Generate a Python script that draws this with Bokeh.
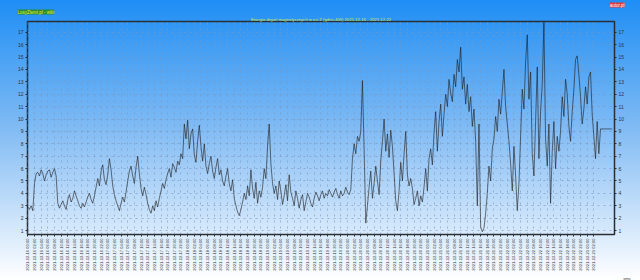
from math import pi
from datetime import datetime, timedelta
from bokeh.plotting import figure
from bokeh.models import Range1d, LinearAxis, FixedTicker, Title
from bokeh.embed import file_html
from bokeh.resources import INLINE

title_text = "Energia drgań magnetycznych w osi Z (gdns-400) 2021-12-16 - 2021-12-22"
badge_left = "LosyZiemi.pl - wiki"
badge_right = "autor.pl"
corner_text = "sms"

# half-hourly values
energy = [
    2.9, 2.7, 3.0, 2.6, 4.8, 5.6, 5.7, 5.4, 5.9, 5.6, 5.0, 5.5, 5.8, 5.9, 5.3, 5.7, 6.0, 5.4, 3.2, 2.8,
    3.1, 3.4, 3.0, 2.7, 3.5, 3.9, 3.3, 3.6, 4.2, 3.8, 3.4, 3.0, 2.8, 3.2, 2.9, 3.3, 3.7, 4.0, 3.5, 3.2,
    3.8, 4.5, 5.2, 4.6, 5.8, 6.3, 5.1, 4.7, 5.5, 6.8, 5.9, 4.6, 3.9, 3.4, 3.0, 2.6, 3.2, 3.7, 3.3, 4.1,
    5.0, 5.8, 6.2, 5.4, 4.8, 6.1, 7.0, 5.6, 4.4, 3.8, 4.5, 3.9, 3.2, 2.7, 2.4, 3.0, 2.6, 3.4, 2.9, 3.6,
    4.2, 4.8, 4.4, 5.1, 5.6, 6.0, 5.3, 6.4, 6.1, 5.7, 6.6, 6.3, 7.2, 6.8, 9.6, 8.4, 9.9, 7.6, 8.8, 9.2,
    7.1, 6.5, 8.2, 9.5, 7.8, 6.6, 8.0, 6.2, 5.6, 6.4, 7.0, 5.8, 5.2, 6.1, 6.8, 5.5, 5.9, 5.0, 4.6, 5.4,
    6.0, 4.8, 4.2, 5.1, 3.6, 3.0, 2.5, 2.2, 2.7, 3.3, 4.0, 3.5, 4.6, 3.8, 5.9, 4.4, 3.6, 4.9, 3.2, 4.2,
    3.7, 4.5, 6.0, 5.2, 7.8, 9.6, 6.4, 4.8, 4.0, 4.6, 3.5, 5.0, 4.2, 3.1, 3.8, 4.7, 3.4, 5.5, 4.1, 3.6,
    3.0, 4.2, 3.6, 2.8, 3.5, 3.9, 2.6, 3.3, 4.0, 3.7, 3.2, 2.9, 3.6, 4.1, 3.8, 3.4, 3.9, 4.2, 3.6, 4.0,
    3.8, 4.3, 4.0, 3.7, 4.1, 4.4, 3.9, 3.6, 4.2, 3.8, 4.0, 4.5, 4.1, 3.9, 4.3, 6.8, 8.0, 7.2, 8.6, 8.2,
    9.0, 13.1, 7.5, 1.6, 3.0, 4.5, 5.8, 3.6, 4.8, 6.2, 5.0, 3.9, 6.6, 8.2, 10.0, 7.4, 8.8, 6.9, 9.1, 7.8,
    5.6, 3.4, 2.6, 4.2, 6.5, 5.0, 7.2, 9.0, 5.5, 4.6, 5.2, 4.4, 3.1, 3.6, 4.2, 3.0, 3.8, 3.3, 4.5, 6.0,
    4.2, 6.8, 7.6, 6.3, 8.9, 10.6, 7.4, 9.8, 11.2, 8.6, 10.4, 12.0, 11.0, 13.2, 12.1, 11.4, 13.6, 12.6, 14.8, 13.8,
    15.8, 12.4, 13.4, 11.2, 12.8, 10.6, 11.8, 9.4, 10.8, 8.2, 3.0, 9.6, 1.3, 0.9, 1.2, 2.4, 4.0, 6.2, 5.0, 7.6,
    8.4, 10.2, 9.0, 11.6, 10.4, 12.2, 14.0, 11.0, 9.6, 8.2, 6.4, 4.2, 7.8, 5.4, 2.6, 4.8, 8.6, 12.4, 10.8, 14.6,
    16.8, 11.6, 13.8, 7.2, 5.4, 9.8, 14.2, 6.8, 10.6, 12.8, 17.8, 8.4, 6.2, 9.6, 3.2, 7.4, 9.8, 6.0, 8.6, 7.4,
    9.0, 11.8, 10.2, 13.2, 12.0, 9.4, 8.2, 10.6, 12.4, 14.8, 15.1, 13.6, 11.8, 9.6, 10.8, 12.6, 11.2, 13.4, 13.8, 10.4,
    8.6, 6.8, 9.8, 7.2, 9.2, 9.2, 9.2, 9.2, 9.2, 9.2, 9.2, 9.2,
]
hours = [i * 0.5 for i in range(len(energy))]

start = datetime(2021, 12, 16, 0, 0)
tick_hours = list(range(0, 172, 2))
tick_labels = [(start + timedelta(hours=h)).strftime("%Y-%m-%d %H:%M") for h in tick_hours]
y_ticks = list(range(1, 18))

p = figure(width=640, height=280, output_backend="svg", toolbar_location=None,
           x_range=Range1d(-0.1, 176.2), y_range=Range1d(0.68, 17.87),
           min_border_left=27, min_border_right=26, min_border_top=18, min_border_bottom=45)
p.background_fill_color = None
p.border_fill_color = None
p.styles = {"background": "linear-gradient(180deg, #1e8ef5 0%, #7fbaf4 45%, #ffffff 100%)"}
p.outline_line_color = "#2a2f36"
p.outline_line_width = 1.5

p.xaxis.ticker = FixedTicker(ticks=tick_hours)
p.xaxis.major_label_overrides = {h: s for h, s in zip(tick_hours, tick_labels)}
p.xaxis.major_label_orientation = pi / 2
p.yaxis.ticker = FixedTicker(ticks=y_ticks)
right = LinearAxis(ticker=FixedTicker(ticks=y_ticks))
p.add_layout(right, "right")

for ax in p.axis:
    ax.axis_line_color = None
    ax.major_tick_line_color = "#2a2f36"
    ax.major_tick_in = 0
    ax.major_tick_out = 2
    ax.minor_tick_line_color = None
    ax.major_label_text_font = "Liberation Sans"
    ax.major_label_text_color = "#333333"
    ax.major_label_standoff = 2
p.xaxis.major_label_text_font_size = "4.1px"
p.yaxis.major_label_text_font_size = "5px"
right.major_label_text_font_size = "5px"

for g in (p.xgrid, p.ygrid):
    g.grid_line_color = "#7b98bd"
    g.grid_line_dash = "dotted"
    g.grid_line_width = 0.7
    g.grid_line_alpha = 0.9
p.ygrid.ticker = FixedTicker(ticks=y_ticks)

p.line(hours, energy, line_color="#1b1b1b", line_width=0.6)

# texts around the frame, as titles in the side panels (first added sits nearest the frame)
p.add_layout(Title(text=title_text, align="center", text_font="Liberation Sans",
                   text_font_size="4.2px", text_font_style="normal", text_color="#d9ec4a",
                   standoff=0, offset=0), "above")
p.add_layout(Title(text=badge_left, align="left", offset=-10, text_font="Liberation Sans",
                   text_font_size="4.5px", text_font_style="normal", text_color="#e6f03a",
                   background_fill_color="#2e8b2e", standoff=0), "above")
p.add_layout(Title(text=badge_right, align="right", offset=-10, text_font="Liberation Sans",
                   text_font_size="4.5px", text_font_style="normal", text_color="#ffffff",
                   background_fill_color="#e53935", standoff=0), "above")
p.add_layout(Title(text=corner_text, align="right", offset=-16, text_font="Liberation Sans",
                   text_font_size="4px", text_font_style="normal", text_color="#333333",
                   standoff=0), "below")

open("out.html", "w").write(file_html(p, INLINE))
